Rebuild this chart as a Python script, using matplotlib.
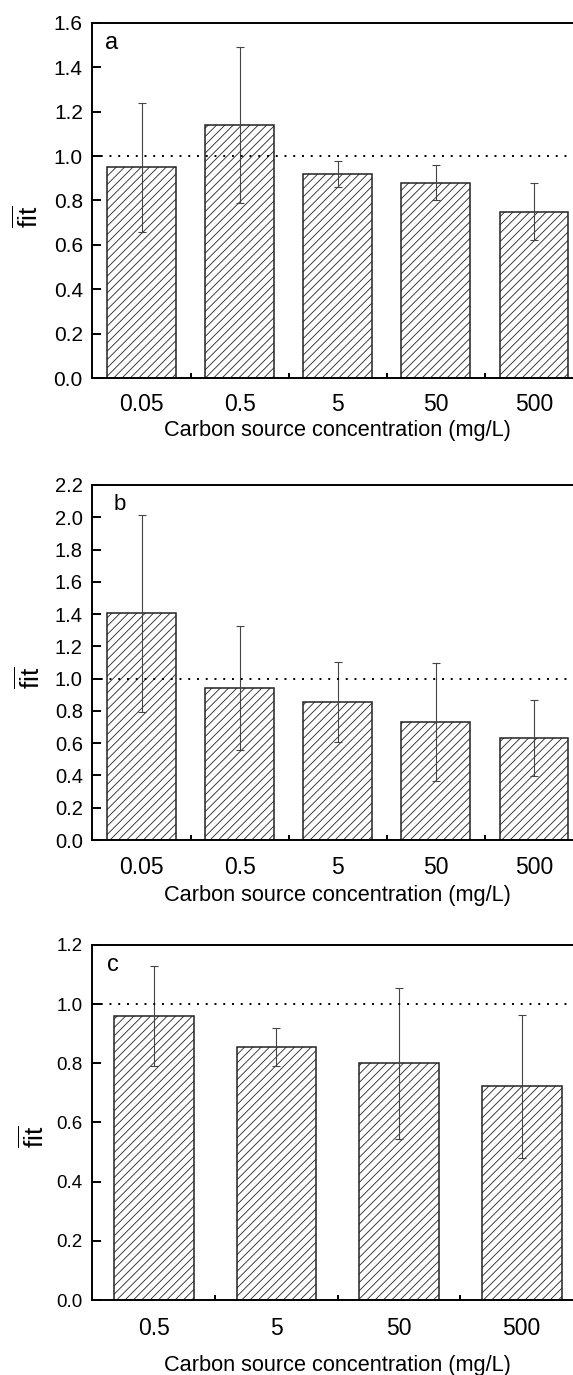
import matplotlib
matplotlib.use('Agg')
import matplotlib.pyplot as plt
import numpy as np

plt.rcParams['font.family'] = ['Liberation Sans', 'DejaVu Sans']
plt.rcParams['mathtext.fontset'] = 'custom'
plt.rcParams['mathtext.rm'] = 'Liberation Sans'
plt.rcParams['hatch.linewidth'] = 0.6

# panel a
a_labels = ['0.05', '0.5', '5', '50', '500']
a_values = [0.95, 1.14, 0.92, 0.88, 0.75]
a_err = [0.29, 0.35, 0.06, 0.08, 0.13]

# panel b
b_labels = ['0.05', '0.5', '5', '50', '500']
b_values = [1.405, 0.94, 0.855, 0.73, 0.63]
b_err = [0.61, 0.385, 0.25, 0.365, 0.235]

# panel c
c_labels = ['0.5', '5', '50', '500']
c_values = [0.96, 0.855, 0.80, 0.722]
c_err = [0.168, 0.064, 0.255, 0.242]

fig = plt.figure(figsize=(5.73, 13.75), dpi=100)

# axes run a little past the right edge, like the cropped original
left, width, height = 0.1614, 0.856, 0.2582
panels = [
    dict(name='a', labels=a_labels, vals=a_values, err=a_err, bottom=0.72509,
         ymax=1.6, bw=0.70, ytick_fs=15, name_fs=17,
         name_xy=(0.026, 0.945), ylab_xy=(-0.1315, 0.455), pad=11, xlab_y=-0.147),
    dict(name='b', labels=b_labels, vals=b_values, err=b_err, bottom=0.38909,
         ymax=2.2, bw=0.70, ytick_fs=14.5, name_fs=16,
         name_xy=(0.042, 0.945), ylab_xy=(-0.1274, 0.456), pad=11.5, xlab_y=-0.156),
    dict(name='c', labels=c_labels, vals=c_values, err=c_err, bottom=0.054545,
         ymax=1.2, bw=0.65, ytick_fs=13.5, name_fs=17,
         name_xy=(0.03, 0.944), ylab_xy=(-0.12, 0.46), pad=12.5, xlab_y=-0.184),
]

for p in panels:
    ax = fig.add_axes([left, p['bottom'], width, height])
    x = np.arange(1, len(p['vals']) + 1)
    ax.bar(x, p['vals'], width=p['bw'], color='white', edgecolor='#222222',
           linewidth=1.1, hatch='////', zorder=2)
    ax.errorbar(x, p['vals'], yerr=p['err'], fmt='none', ecolor='#444444',
                elinewidth=0.8, capsize=3.2, capthick=0.8, zorder=3)
    ax.axhline(1.0, color='black', linestyle=(0, (1, 3.5)), linewidth=1.4, zorder=4)

    ax.set_xlim(0.5, len(x) + 0.5)
    ax.set_ylim(0, p['ymax'])
    ax.set_yticks(np.arange(0, p['ymax'] + 0.01, 0.2))
    ax.yaxis.set_major_formatter(matplotlib.ticker.FormatStrFormatter('%.1f'))
    ax.set_xticks(x)
    ax.set_xticklabels(p['labels'], fontsize=16.5)
    ax.set_xticks(x[:-1] + 0.5, minor=True)

    ax.tick_params(axis='y', direction='in', length=6.5, width=1.4,
                   labelsize=p['ytick_fs'], pad=7)
    ax.tick_params(axis='x', which='major', length=0, pad=p['pad'])
    ax.tick_params(axis='x', which='minor', direction='in', length=3.5, width=1.4)
    for s in ax.spines.values():
        s.set_linewidth(1.4)

    ax.set_xlabel('Carbon source concentration (mg/L)', fontsize=15.7)
    ax.xaxis.set_label_coords(0.5, p['xlab_y'])
    ax.xaxis.label.set_va('center')
    ax.set_ylabel(r'$\overline{\mathrm{fit}}$', fontsize=19)
    ax.yaxis.set_label_coords(*p['ylab_xy'])
    ax.yaxis.label.set_va('center')

    ax.text(p['name_xy'][0], p['name_xy'][1], p['name'], transform=ax.transAxes,
            fontsize=p['name_fs'], ha='left', va='center')

fig.savefig('out.png', dpi=100)
